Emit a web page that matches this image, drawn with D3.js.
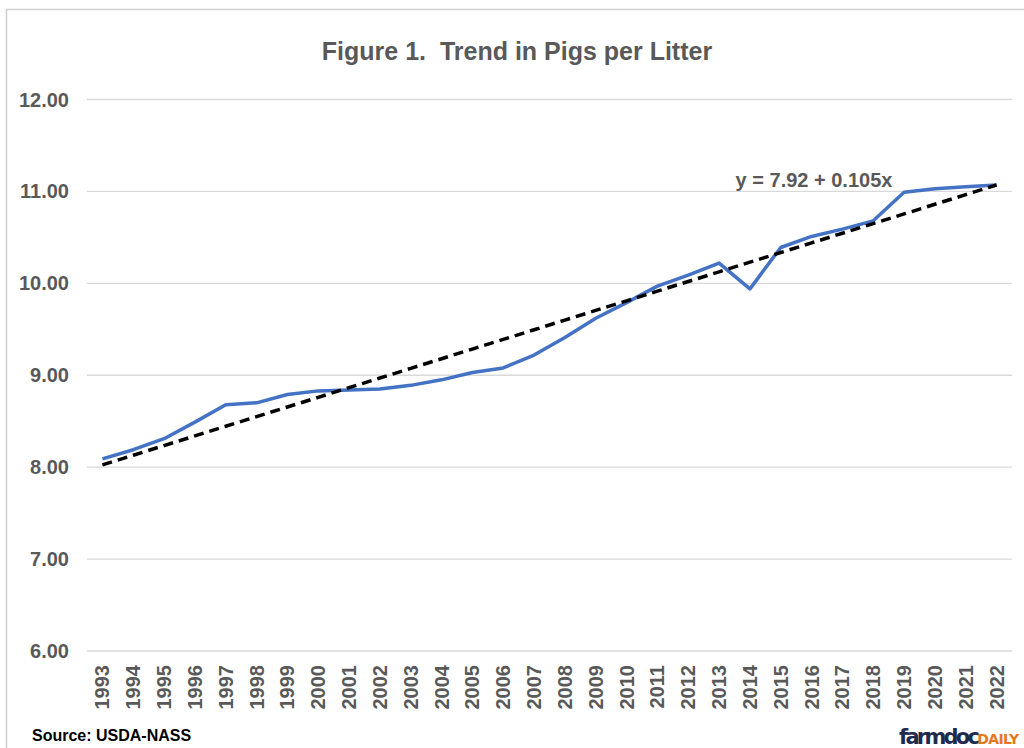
<!DOCTYPE html>
<html>
<head>
<meta charset="utf-8">
<script src="https://cdn.jsdelivr.net/npm/d3@7"></script>
<style>
  body { margin: 0; background: #fff; }
  text { font-family: "Liberation Sans", Arial, sans-serif; }
</style>
</head>
<body>
<div id="chart"></div>
<script>
// pigs per litter
var years = ["1993","1994","1995","1996","1997","1998","1999","2000","2001","2002",
             "2003","2004","2005","2006","2007","2008","2009","2010","2011","2012",
             "2013","2014","2015","2016","2017","2018","2019","2020","2021","2022"]
var pigsPerLitter = [8.09, 8.19, 8.31, 8.49, 8.68, 8.70, 8.79, 8.83, 8.84, 8.85,
                     8.89, 8.95, 9.03, 9.08, 9.22, 9.41, 9.62, 9.79, 9.97, 10.09,
                     10.22, 9.94, 10.39, 10.51, 10.59, 10.68, 10.99, 11.03, 11.05, 11.07]
var yTicks = [6, 7, 8, 9, 10, 11, 12]
var trendIntercept = 7.92
var trendSlope = 0.105
var trendLabel = "y = 7.92 + 0.105x"

var width = 1024
var height = 748
var grey = "#595959"

var svg = d3.select("#chart")
            .append("svg")
            .attr("width", width)
            .attr("height", height)

// chart border
svg.append("rect")
    .attr("x", 6.5).attr("y", 9.5)
    .attr("width", 1100).attr("height", 800)
    .attr("fill", "none")
    .attr("stroke", "#cfcfcf")
    .attr("stroke-width", 1.5)

var x = d3.scaleBand().domain(years).range([87, 1012])
var y = d3.scaleLinear().domain([6, 12]).range([651, 99.5])

// gridlines
svg.append("g")
    .selectAll("line")
    .data(yTicks)
    .enter()
    .append("line")
    .attr("x1", 87).attr("x2", 1012)
    .attr("y1", function(d){ return y(d) })
    .attr("y2", function(d){ return y(d) })
    .attr("stroke", "#d9d9d9")
    .attr("stroke-width", 1.3)

// y tick labels
svg.append("g")
    .selectAll("text")
    .data(yTicks)
    .enter()
    .append("text")
    .attr("x", 69)
    .attr("y", function(d){ return y(d) + 7 })
    .attr("text-anchor", "end")
    .attr("font-size", 20)
    .attr("font-weight", "bold")
    .attr("fill", grey)
    .text(function(d){ return d3.format(".2f")(d) })

// x tick labels, rotated
svg.append("g")
    .selectAll("text")
    .data(years)
    .enter()
    .append("text")
    .attr("transform", function(d){
        return "translate(" + (x(d) + x.bandwidth() / 2 + 7) + ",665) rotate(-90)"
    })
    .attr("text-anchor", "end")
    .attr("font-size", 20)
    .attr("font-weight", "bold")
    .attr("fill", grey)
    .text(function(d){ return d })

var cx = function(d){ return x(d) + x.bandwidth() / 2 }

// data line
var line = d3.line()
    .x(function(d, i){ return cx(years[i]) })
    .y(function(d){ return y(d) })

svg.append("path")
    .datum(pigsPerLitter)
    .attr("d", line)
    .attr("fill", "none")
    .attr("stroke", "#4472c4")
    .attr("stroke-width", 3.5)
    .attr("stroke-linejoin", "round")

// linear trend
var trend = years.map(function(d, i){ return trendIntercept + trendSlope * (i + 1) })
svg.append("path")
    .datum(trend)
    .attr("d", line)
    .attr("fill", "none")
    .attr("stroke", "#000")
    .attr("stroke-width", 3.5)
    .attr("stroke-dasharray", "10,6")

svg.append("text")
    .attr("x", 814).attr("y", 187)
    .attr("text-anchor", "middle")
    .attr("font-size", 20)
    .attr("font-weight", "bold")
    .attr("fill", grey)
    .text(trendLabel)

// title
svg.append("text")
    .attr("x", 517).attr("y", 60)
    .attr("text-anchor", "middle")
    .attr("font-size", 25)
    .attr("font-weight", "bold")
    .attr("fill", grey)
    .style("white-space", "pre")
    .text("Figure 1.  Trend in Pigs per Litter")

// source
svg.append("text")
    .attr("x", 32).attr("y", 741)
    .attr("font-size", 16)
    .attr("font-weight", "bold")
    .attr("fill", "#000")
    .text("Source: USDA-NASS")

// logo
var logo = svg.append("text")
    .attr("x", 899).attr("y", 744)
    .style("font-family", "'DejaVu Sans', sans-serif")
    .attr("font-weight", "bold")
logo.append("tspan")
    .attr("font-size", 21)
    .attr("fill", "#1f2b4e")
    .attr("textLength", 81)
    .text("farmdoc")
logo.append("tspan")
    .attr("font-size", 14)
    .attr("fill", "#e87722")
    .attr("textLength", 42)
    .text("DAILY")
</script>
</body>
</html>
